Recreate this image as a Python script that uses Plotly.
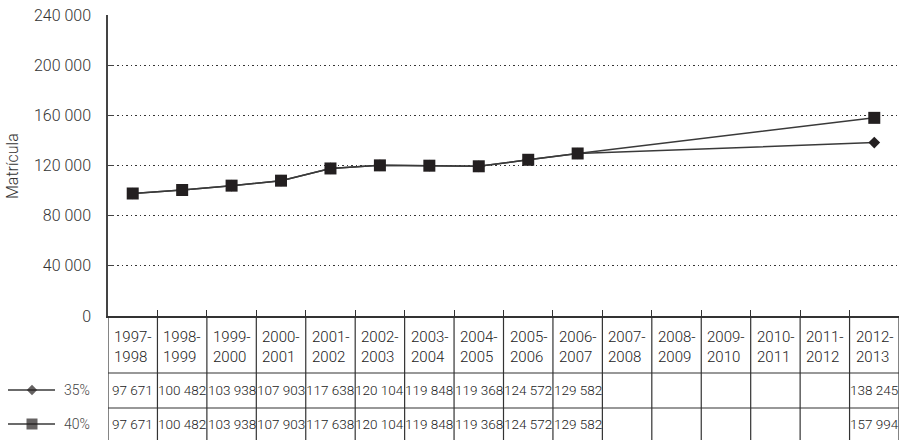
import plotly.graph_objects as go

# school years, table header
years = ["1997-1998", "1998-1999", "1999-2000", "2000-2001", "2001-2002", "2002-2003",
         "2003-2004", "2004-2005", "2005-2006", "2006-2007", "2007-2008", "2008-2009",
         "2009-2010", "2010-2011", "2011-2012", "2012-2013"]

enrol_35 = [97671, 100482, 103938, 107903, 117638, 120104, 119848, 119368, 124572, 129582,
            None, None, None, None, None, 138245]
enrol_40 = [97671, 100482, 103938, 107903, 117638, 120104, 119848, 119368, 124572, 129582,
            None, None, None, None, None, 157994]

series = [("35%", enrol_35, "diamond", 9), ("40%", enrol_40, "square", 12)]

y_ticks = [0, 40000, 80000, 120000, 160000, 200000, 240000]

W, H = 902, 440
ML, MR, MT, MB = 0, 3, 15, 0
pw, ph = W - ML - MR, H - MT - MB
x0_px = 108       # left edge of chart / table
axis_px = 316     # pixel row of the x axis
tab_h = H - axis_px   # 124
row_35, row_40 = 50, 16     # row centres in table units (px from bottom)
row_lines = [67, 32]

ink = "#231f20"
line_col = "#3a3a3a"
font_fam = "Roboto, Liberation Sans, sans-serif"

fig = go.Figure()

for name, vals, sym, size in series:
    fig.add_trace(go.Scatter(
        x=years, y=vals, name=name, mode="lines+markers", connectgaps=True,
        line=dict(color=line_col, width=1.5),
        marker=dict(symbol=sym, size=size, color=ink),
        xaxis="x", yaxis="y", showlegend=False,
    ))

# legend samples drawn inside the table's left margin
for (name, vals, sym, size), yc in zip(series, [row_35, row_40]):
    fig.add_trace(go.Scatter(
        x=[8, 32, 55], y=[yc, yc, yc], mode="lines+markers",
        line=dict(color=line_col, width=1.3),
        marker=dict(symbol=sym, size=[0, size - 1, 0], color=ink, line=dict(width=0)),
        xaxis="x3", yaxis="y2", showlegend=False, hoverinfo="skip",
    ))

shapes = []
n = len(years)
# vertical cell borders
for i in range(n + 1):
    shapes.append(dict(type="line", xref="x", yref="y2", x0=i - 0.5, x1=i - 0.5,
                       y0=0, y1=tab_h, line=dict(color="#333", width=1.2)))
# horizontal row borders
for yl in row_lines:
    shapes.append(dict(type="line", xref="x", yref="y2", x0=-0.5, x1=n - 0.5,
                       y0=yl, y1=yl, line=dict(color="#333", width=1.2)))

annotations = []
for i, yr in enumerate(years):
    a, b = yr.split("-")
    annotations.append(dict(x=i - 0.5, y=(tab_h + row_lines[0]) / 2 - 2, xref="x", yref="y2",
                            text=a + "-<br>" + b, showarrow=False, xanchor="left", xshift=4,
                            align="left",
                            font=dict(family=font_fam, size=15, color="#222", weight=300)))
    for vals, yc in [(enrol_35, row_35), (enrol_40, row_40)]:
        if vals[i] is not None:
            annotations.append(dict(x=yr, y=yc, xref="x", yref="y2",
                                    text=f"{vals[i]:,}".replace(",", " "), showarrow=False,
                                    font=dict(family=font_fam, size=13.5, color="#222",
                                              weight=300)))

for (name, _, _, _), yc in zip(series, [row_35, row_40]):
    annotations.append(dict(x=62, y=yc, xref="x3", yref="y2", text=name, showarrow=False,
                            xanchor="left", font=dict(family=font_fam, size=14, color="#444",
                                                      weight=300)))

annotations.append(dict(x=12 / pw, y=(H - 166) / ph, xref="paper", yref="paper",
                        xanchor="center", yanchor="middle",
                        text="Matrícula", textangle=-90, showarrow=False,
                        font=dict(family=font_fam, size=16, color="#333", weight=300)))

fig.update_layout(
    width=W, height=H,
    margin=dict(l=ML, r=MR, t=MT, b=MB, autoexpand=False),
    paper_bgcolor="white", plot_bgcolor="white",
    separators=", ",
    font=dict(family=font_fam, color="#333"),
    xaxis=dict(domain=[x0_px / pw, 1], range=[-0.5, n - 0.5], type="category",
               categoryorder="array", categoryarray=years, anchor="y", automargin=False,
               showline=True, linecolor="#333", linewidth=1.5, showgrid=False,
               ticks="inside", ticklen=6, tickcolor="#333", tickson="boundaries",
               showticklabels=False, zeroline=False),
    yaxis=dict(domain=[tab_h / ph, 1], range=[0, 240000], tickvals=y_ticks,
               tickformat=",d", anchor="x", automargin=False,
               showline=True, linecolor="#444", linewidth=1.5,
               ticks="inside", ticklen=6, tickcolor="#444",
               showgrid=True, gridcolor="#333", griddash="1.5px,3px", gridwidth=1,
               zeroline=False, ticklabelstandoff=12,
               tickfont=dict(family=font_fam, size=16, color="#333", weight=300)),
    yaxis2=dict(domain=[0, tab_h / ph], range=[0, tab_h], anchor="x", automargin=False,
                visible=False, fixedrange=True),
    xaxis3=dict(domain=[0, x0_px / pw], range=[0, x0_px], anchor="y2", automargin=False,
                visible=False),
    shapes=shapes,
    annotations=annotations,
)

# drop the browser's default 8px body margin so the figure sits at the page corner
fig.write_html("out.html", config={"displayModeBar": False},
               post_script="document.body.style.margin='0';")
